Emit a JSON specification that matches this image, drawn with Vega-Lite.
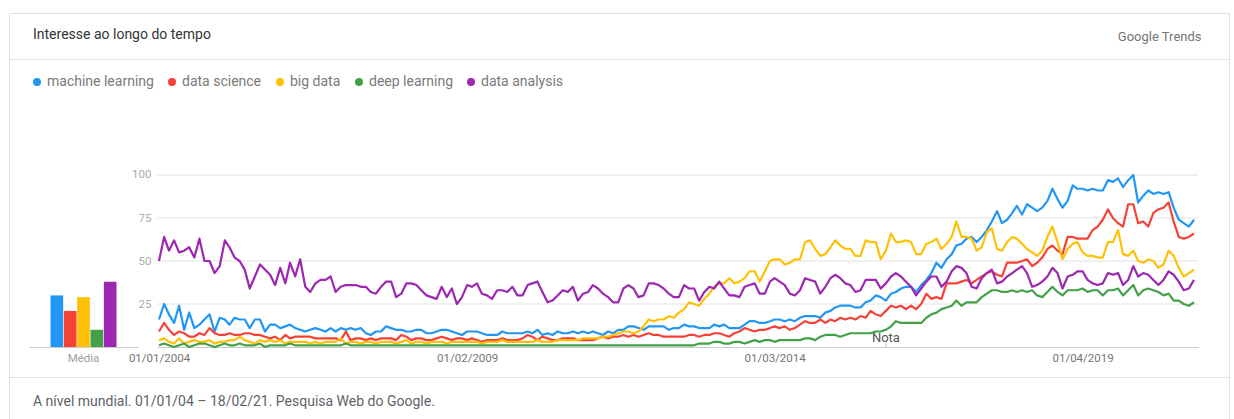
{
  "$schema": "https://vega.github.io/schema/vega-lite/v6.json",
  "background": "#ffffff",
  "padding": {"left": 8, "top": 12, "right": 6, "bottom": 0},
  "config": {
    "font": "Roboto",
    "view": {"stroke": "#e0e0e0", "strokeWidth": 1}
  },
  "title": {"text": "Google Trends", "anchor": "end", "frame": "bounds", "orient": "top", "offset": -37, "dx": -28, "baseline": "middle", "fontSize": 13, "color": "#757575", "fontWeight": "normal"},
  "spacing": 0,
  "bounds": "flush",
  "resolve": {"scale": {"color": "independent"}, "legend": {"color": "independent"}},
  "datasets": {
    "nomes": [
      {"k": "ml", "serie": "machine learning"},
      {"k": "ds", "serie": "data science"},
      {"k": "bd", "serie": "big data"},
      {"k": "dl", "serie": "deep learning"},
      {"k": "da", "serie": "data analysis"}
    ],
    "medias": [
      {"grupo": "Média", "serie": "machine learning", "media": 30},
      {"grupo": "Média", "serie": "data science", "media": 21},
      {"grupo": "Média", "serie": "big data", "media": 29},
      {"grupo": "Média", "serie": "deep learning", "media": 10},
      {"grupo": "Média", "serie": "data analysis", "media": 38}
    ],
    "notas": [{"d": "2016-01", "t": "Nota"}],
    "grade": [{"g": 25}, {"g": 50}, {"g": 75}, {"g": 100}],
    "tendencias": [
      {"d":"2004-01","ml":16,"ds":9,"bd":4,"dl":1,"da":50},
      {"d":"2004-02","ml":25,"ds":14,"bd":5,"dl":2,"da":64},
      {"d":"2004-03","ml":19,"ds":10,"bd":3,"dl":1,"da":56},
      {"d":"2004-04","ml":14,"ds":7,"bd":2,"dl":0,"da":62},
      {"d":"2004-05","ml":24,"ds":9,"bd":5,"dl":1,"da":55},
      {"d":"2004-06","ml":10,"ds":8,"bd":2,"dl":2,"da":56},
      {"d":"2004-07","ml":20,"ds":6,"bd":3,"dl":0,"da":58},
      {"d":"2004-08","ml":11,"ds":6,"bd":4,"dl":1,"da":52},
      {"d":"2004-09","ml":13,"ds":8,"bd":3,"dl":2,"da":63},
      {"d":"2004-10","ml":16,"ds":7,"bd":3,"dl":2,"da":50},
      {"d":"2004-11","ml":19,"ds":11,"bd":4,"dl":1,"da":50},
      {"d":"2004-12","ml":9,"ds":8,"bd":2,"dl":0,"da":43},
      {"d":"2005-01","ml":17,"ds":7,"bd":3,"dl":1,"da":47},
      {"d":"2005-02","ml":16,"ds":7,"bd":3,"dl":2,"da":62},
      {"d":"2005-03","ml":13,"ds":8,"bd":4,"dl":1,"da":58},
      {"d":"2005-04","ml":17,"ds":7,"bd":4,"dl":1,"da":52},
      {"d":"2005-05","ml":16,"ds":7,"bd":6,"dl":2,"da":50},
      {"d":"2005-06","ml":16,"ds":8,"bd":4,"dl":1,"da":45},
      {"d":"2005-07","ml":11,"ds":8,"bd":3,"dl":1,"da":34},
      {"d":"2005-08","ml":16,"ds":7,"bd":2,"dl":1,"da":41},
      {"d":"2005-09","ml":16,"ds":7,"bd":4,"dl":2,"da":48},
      {"d":"2005-10","ml":9,"ds":6,"bd":3,"dl":0,"da":45},
      {"d":"2005-11","ml":13,"ds":5,"bd":4,"dl":1,"da":42},
      {"d":"2005-12","ml":13,"ds":6,"bd":3,"dl":1,"da":36},
      {"d":"2006-01","ml":11,"ds":4,"bd":4,"dl":1,"da":46},
      {"d":"2006-02","ml":12,"ds":7,"bd":2,"dl":1,"da":37},
      {"d":"2006-03","ml":13,"ds":5,"bd":3,"dl":2,"da":49},
      {"d":"2006-04","ml":11,"ds":6,"bd":3,"dl":1,"da":41},
      {"d":"2006-05","ml":10,"ds":6,"bd":3,"dl":1,"da":51},
      {"d":"2006-06","ml":9,"ds":6,"bd":3,"dl":1,"da":35},
      {"d":"2006-07","ml":10,"ds":6,"bd":2,"dl":1,"da":32},
      {"d":"2006-08","ml":11,"ds":5,"bd":3,"dl":1,"da":37},
      {"d":"2006-09","ml":10,"ds":5,"bd":2,"dl":1,"da":39},
      {"d":"2006-10","ml":9,"ds":5,"bd":3,"dl":1,"da":39},
      {"d":"2006-11","ml":11,"ds":5,"bd":3,"dl":1,"da":41},
      {"d":"2006-12","ml":9,"ds":5,"bd":3,"dl":1,"da":32},
      {"d":"2007-01","ml":11,"ds":4,"bd":5,"dl":1,"da":35},
      {"d":"2007-02","ml":10,"ds":9,"bd":2,"dl":2,"da":36},
      {"d":"2007-03","ml":11,"ds":4,"bd":3,"dl":1,"da":36},
      {"d":"2007-04","ml":10,"ds":5,"bd":3,"dl":1,"da":36},
      {"d":"2007-05","ml":11,"ds":5,"bd":2,"dl":1,"da":35},
      {"d":"2007-06","ml":8,"ds":4,"bd":3,"dl":1,"da":35},
      {"d":"2007-07","ml":7,"ds":5,"bd":3,"dl":1,"da":32},
      {"d":"2007-08","ml":9,"ds":4,"bd":2,"dl":1,"da":31},
      {"d":"2007-09","ml":9,"ds":5,"bd":3,"dl":1,"da":35},
      {"d":"2007-10","ml":12,"ds":5,"bd":3,"dl":1,"da":38},
      {"d":"2007-11","ml":11,"ds":5,"bd":3,"dl":1,"da":38},
      {"d":"2007-12","ml":10,"ds":4,"bd":2,"dl":1,"da":29},
      {"d":"2008-01","ml":10,"ds":7,"bd":3,"dl":1,"da":31},
      {"d":"2008-02","ml":9,"ds":6,"bd":4,"dl":1,"da":37},
      {"d":"2008-03","ml":9,"ds":4,"bd":2,"dl":1,"da":37},
      {"d":"2008-04","ml":10,"ds":5,"bd":3,"dl":1,"da":36},
      {"d":"2008-05","ml":10,"ds":5,"bd":3,"dl":1,"da":33},
      {"d":"2008-06","ml":8,"ds":4,"bd":2,"dl":1,"da":30},
      {"d":"2008-07","ml":8,"ds":4,"bd":3,"dl":1,"da":29},
      {"d":"2008-08","ml":9,"ds":5,"bd":3,"dl":1,"da":28},
      {"d":"2008-09","ml":10,"ds":6,"bd":3,"dl":1,"da":35},
      {"d":"2008-10","ml":10,"ds":5,"bd":2,"dl":1,"da":29},
      {"d":"2008-11","ml":9,"ds":4,"bd":3,"dl":1,"da":34},
      {"d":"2008-12","ml":8,"ds":5,"bd":3,"dl":1,"da":25},
      {"d":"2009-01","ml":7,"ds":5,"bd":3,"dl":1,"da":29},
      {"d":"2009-02","ml":9,"ds":4,"bd":3,"dl":1,"da":36},
      {"d":"2009-03","ml":9,"ds":5,"bd":3,"dl":1,"da":35},
      {"d":"2009-04","ml":9,"ds":4,"bd":3,"dl":1,"da":37},
      {"d":"2009-05","ml":8,"ds":3,"bd":2,"dl":1,"da":31},
      {"d":"2009-06","ml":7,"ds":4,"bd":3,"dl":1,"da":30},
      {"d":"2009-07","ml":7,"ds":4,"bd":3,"dl":1,"da":28},
      {"d":"2009-08","ml":7,"ds":4,"bd":3,"dl":1,"da":33},
      {"d":"2009-09","ml":9,"ds":5,"bd":4,"dl":1,"da":33},
      {"d":"2009-10","ml":8,"ds":4,"bd":3,"dl":1,"da":32},
      {"d":"2009-11","ml":8,"ds":4,"bd":3,"dl":1,"da":35},
      {"d":"2009-12","ml":8,"ds":4,"bd":3,"dl":1,"da":30},
      {"d":"2010-01","ml":8,"ds":5,"bd":3,"dl":1,"da":30},
      {"d":"2010-02","ml":9,"ds":7,"bd":3,"dl":1,"da":36},
      {"d":"2010-03","ml":8,"ds":6,"bd":3,"dl":1,"da":37},
      {"d":"2010-04","ml":10,"ds":4,"bd":4,"dl":1,"da":38},
      {"d":"2010-05","ml":7,"ds":6,"bd":3,"dl":1,"da":32},
      {"d":"2010-06","ml":8,"ds":5,"bd":3,"dl":1,"da":26},
      {"d":"2010-07","ml":7,"ds":4,"bd":3,"dl":1,"da":27},
      {"d":"2010-08","ml":9,"ds":4,"bd":4,"dl":1,"da":30},
      {"d":"2010-09","ml":8,"ds":5,"bd":4,"dl":1,"da":33},
      {"d":"2010-10","ml":8,"ds":5,"bd":4,"dl":1,"da":32},
      {"d":"2010-11","ml":9,"ds":5,"bd":4,"dl":1,"da":35},
      {"d":"2010-12","ml":8,"ds":4,"bd":4,"dl":1,"da":27},
      {"d":"2011-01","ml":9,"ds":4,"bd":5,"dl":1,"da":31},
      {"d":"2011-02","ml":8,"ds":4,"bd":5,"dl":1,"da":32},
      {"d":"2011-03","ml":9,"ds":4,"bd":5,"dl":1,"da":36},
      {"d":"2011-04","ml":8,"ds":5,"bd":5,"dl":1,"da":34},
      {"d":"2011-05","ml":7,"ds":6,"bd":6,"dl":1,"da":31},
      {"d":"2011-06","ml":9,"ds":5,"bd":6,"dl":1,"da":29},
      {"d":"2011-07","ml":8,"ds":6,"bd":7,"dl":1,"da":26},
      {"d":"2011-08","ml":10,"ds":6,"bd":8,"dl":1,"da":26},
      {"d":"2011-09","ml":10,"ds":7,"bd":9,"dl":1,"da":34},
      {"d":"2011-10","ml":12,"ds":6,"bd":9,"dl":1,"da":36},
      {"d":"2011-11","ml":12,"ds":7,"bd":8,"dl":1,"da":34},
      {"d":"2011-12","ml":11,"ds":6,"bd":9,"dl":1,"da":29},
      {"d":"2012-01","ml":10,"ds":7,"bd":12,"dl":1,"da":30},
      {"d":"2012-02","ml":12,"ds":8,"bd":16,"dl":1,"da":37},
      {"d":"2012-03","ml":12,"ds":7,"bd":15,"dl":1,"da":37},
      {"d":"2012-04","ml":12,"ds":7,"bd":16,"dl":1,"da":36},
      {"d":"2012-05","ml":12,"ds":6,"bd":16,"dl":1,"da":34},
      {"d":"2012-06","ml":10,"ds":6,"bd":18,"dl":1,"da":31},
      {"d":"2012-07","ml":11,"ds":6,"bd":17,"dl":1,"da":29},
      {"d":"2012-08","ml":11,"ds":6,"bd":20,"dl":1,"da":29},
      {"d":"2012-09","ml":13,"ds":6,"bd":22,"dl":1,"da":36},
      {"d":"2012-10","ml":12,"ds":7,"bd":26,"dl":1,"da":34},
      {"d":"2012-11","ml":12,"ds":7,"bd":25,"dl":1,"da":34},
      {"d":"2012-12","ml":11,"ds":6,"bd":24,"dl":2,"da":27},
      {"d":"2013-01","ml":11,"ds":7,"bd":28,"dl":2,"da":32},
      {"d":"2013-02","ml":11,"ds":7,"bd":31,"dl":2,"da":35},
      {"d":"2013-03","ml":13,"ds":8,"bd":35,"dl":3,"da":34},
      {"d":"2013-04","ml":12,"ds":8,"bd":37,"dl":3,"da":38},
      {"d":"2013-05","ml":13,"ds":7,"bd":37,"dl":2,"da":34},
      {"d":"2013-06","ml":11,"ds":6,"bd":40,"dl":2,"da":30},
      {"d":"2013-07","ml":11,"ds":8,"bd":37,"dl":3,"da":30},
      {"d":"2013-08","ml":11,"ds":9,"bd":38,"dl":3,"da":29},
      {"d":"2013-09","ml":13,"ds":11,"bd":40,"dl":2,"da":35},
      {"d":"2013-10","ml":15,"ds":10,"bd":44,"dl":3,"da":36},
      {"d":"2013-11","ml":15,"ds":9,"bd":44,"dl":4,"da":37},
      {"d":"2013-12","ml":14,"ds":10,"bd":38,"dl":3,"da":31},
      {"d":"2014-01","ml":14,"ds":10,"bd":44,"dl":4,"da":31},
      {"d":"2014-02","ml":15,"ds":11,"bd":50,"dl":4,"da":38},
      {"d":"2014-03","ml":16,"ds":12,"bd":51,"dl":3,"da":40},
      {"d":"2014-04","ml":16,"ds":11,"bd":51,"dl":4,"da":38},
      {"d":"2014-05","ml":15,"ds":12,"bd":48,"dl":4,"da":36},
      {"d":"2014-06","ml":16,"ds":10,"bd":49,"dl":4,"da":31},
      {"d":"2014-07","ml":15,"ds":11,"bd":51,"dl":4,"da":30},
      {"d":"2014-08","ml":17,"ds":13,"bd":51,"dl":4,"da":33},
      {"d":"2014-09","ml":18,"ds":15,"bd":61,"dl":5,"da":40},
      {"d":"2014-10","ml":18,"ds":14,"bd":62,"dl":5,"da":39},
      {"d":"2014-11","ml":18,"ds":14,"bd":57,"dl":4,"da":38},
      {"d":"2014-12","ml":17,"ds":16,"bd":53,"dl":6,"da":31},
      {"d":"2015-01","ml":20,"ds":14,"bd":54,"dl":7,"da":35},
      {"d":"2015-02","ml":21,"ds":16,"bd":58,"dl":7,"da":40},
      {"d":"2015-03","ml":23,"ds":15,"bd":62,"dl":7,"da":42},
      {"d":"2015-04","ml":24,"ds":17,"bd":59,"dl":6,"da":40},
      {"d":"2015-05","ml":24,"ds":16,"bd":57,"dl":7,"da":37},
      {"d":"2015-06","ml":24,"ds":17,"bd":57,"dl":8,"da":36},
      {"d":"2015-07","ml":23,"ds":16,"bd":53,"dl":8,"da":32},
      {"d":"2015-08","ml":23,"ds":18,"bd":53,"dl":8,"da":33},
      {"d":"2015-09","ml":26,"ds":17,"bd":62,"dl":8,"da":39},
      {"d":"2015-10","ml":27,"ds":21,"bd":61,"dl":8,"da":39},
      {"d":"2015-11","ml":30,"ds":19,"bd":61,"dl":9,"da":39},
      {"d":"2015-12","ml":29,"ds":18,"bd":51,"dl":9,"da":34},
      {"d":"2016-01","ml":27,"ds":21,"bd":56,"dl":10,"da":37},
      {"d":"2016-02","ml":31,"ds":24,"bd":66,"dl":12,"da":41},
      {"d":"2016-03","ml":32,"ds":23,"bd":61,"dl":15,"da":43},
      {"d":"2016-04","ml":34,"ds":24,"bd":61,"dl":14,"da":41},
      {"d":"2016-05","ml":35,"ds":22,"bd":62,"dl":14,"da":38},
      {"d":"2016-06","ml":35,"ds":24,"bd":61,"dl":14,"da":35},
      {"d":"2016-07","ml":32,"ds":22,"bd":54,"dl":14,"da":30},
      {"d":"2016-08","ml":36,"ds":25,"bd":54,"dl":14,"da":34},
      {"d":"2016-09","ml":39,"ds":31,"bd":60,"dl":17,"da":38},
      {"d":"2016-10","ml":43,"ds":28,"bd":61,"dl":19,"da":41},
      {"d":"2016-11","ml":49,"ds":29,"bd":63,"dl":20,"da":41},
      {"d":"2016-12","ml":46,"ds":28,"bd":57,"dl":22,"da":35},
      {"d":"2017-01","ml":51,"ds":37,"bd":60,"dl":23,"da":38},
      {"d":"2017-02","ml":54,"ds":37,"bd":64,"dl":24,"da":44},
      {"d":"2017-03","ml":59,"ds":37,"bd":73,"dl":27,"da":47},
      {"d":"2017-04","ml":60,"ds":38,"bd":64,"dl":24,"da":46},
      {"d":"2017-05","ml":63,"ds":39,"bd":64,"dl":26,"da":43},
      {"d":"2017-06","ml":64,"ds":37,"bd":63,"dl":26,"da":35},
      {"d":"2017-07","ml":61,"ds":39,"bd":56,"dl":26,"da":34},
      {"d":"2017-08","ml":64,"ds":41,"bd":58,"dl":29,"da":40},
      {"d":"2017-09","ml":68,"ds":43,"bd":67,"dl":31,"da":43},
      {"d":"2017-10","ml":73,"ds":44,"bd":69,"dl":33,"da":45},
      {"d":"2017-11","ml":79,"ds":42,"bd":57,"dl":33,"da":37},
      {"d":"2017-12","ml":72,"ds":41,"bd":56,"dl":32,"da":38},
      {"d":"2018-01","ml":74,"ds":49,"bd":61,"dl":32,"da":41},
      {"d":"2018-02","ml":78,"ds":49,"bd":64,"dl":33,"da":43},
      {"d":"2018-03","ml":82,"ds":49,"bd":63,"dl":32,"da":45},
      {"d":"2018-04","ml":77,"ds":50,"bd":60,"dl":33,"da":47},
      {"d":"2018-05","ml":83,"ds":51,"bd":57,"dl":32,"da":43},
      {"d":"2018-06","ml":81,"ds":47,"bd":55,"dl":33,"da":35},
      {"d":"2018-07","ml":79,"ds":49,"bd":53,"dl":30,"da":36},
      {"d":"2018-08","ml":81,"ds":52,"bd":56,"dl":29,"da":38},
      {"d":"2018-09","ml":85,"ds":57,"bd":64,"dl":32,"da":41},
      {"d":"2018-10","ml":92,"ds":59,"bd":70,"dl":35,"da":46},
      {"d":"2018-11","ml":86,"ds":56,"bd":61,"dl":32,"da":43},
      {"d":"2018-12","ml":81,"ds":54,"bd":51,"dl":30,"da":34},
      {"d":"2019-01","ml":85,"ds":64,"bd":57,"dl":33,"da":41},
      {"d":"2019-02","ml":94,"ds":64,"bd":60,"dl":33,"da":42},
      {"d":"2019-03","ml":92,"ds":63,"bd":61,"dl":33,"da":44},
      {"d":"2019-04","ml":92,"ds":63,"bd":55,"dl":34,"da":44},
      {"d":"2019-05","ml":91,"ds":63,"bd":53,"dl":32,"da":39},
      {"d":"2019-06","ml":92,"ds":68,"bd":53,"dl":33,"da":37},
      {"d":"2019-07","ml":91,"ds":70,"bd":52,"dl":33,"da":36},
      {"d":"2019-08","ml":91,"ds":74,"bd":52,"dl":30,"da":37},
      {"d":"2019-09","ml":97,"ds":80,"bd":61,"dl":33,"da":43},
      {"d":"2019-10","ml":96,"ds":75,"bd":61,"dl":33,"da":42},
      {"d":"2019-11","ml":98,"ds":72,"bd":68,"dl":34,"da":43},
      {"d":"2019-12","ml":93,"ds":70,"bd":54,"dl":30,"da":36},
      {"d":"2020-01","ml":97,"ds":83,"bd":53,"dl":33,"da":39},
      {"d":"2020-02","ml":100,"ds":83,"bd":56,"dl":36,"da":47},
      {"d":"2020-03","ml":84,"ds":72,"bd":50,"dl":30,"da":41},
      {"d":"2020-04","ml":88,"ds":73,"bd":49,"dl":33,"da":43},
      {"d":"2020-05","ml":91,"ds":70,"bd":51,"dl":34,"da":42},
      {"d":"2020-06","ml":89,"ds":78,"bd":50,"dl":33,"da":39},
      {"d":"2020-07","ml":90,"ds":80,"bd":46,"dl":32,"da":36},
      {"d":"2020-08","ml":89,"ds":81,"bd":48,"dl":30,"da":39},
      {"d":"2020-09","ml":90,"ds":84,"bd":56,"dl":31,"da":44},
      {"d":"2020-10","ml":81,"ds":73,"bd":53,"dl":27,"da":42},
      {"d":"2020-11","ml":74,"ds":64,"bd":46,"dl":27,"da":38},
      {"d":"2020-12","ml":72,"ds":63,"bd":41,"dl":25,"da":33},
      {"d":"2021-01","ml":70,"ds":64,"bd":43,"dl":24,"da":34},
      {"d":"2021-02","ml":74,"ds":66,"bd":45,"dl":26,"da":39}
    ]
  },
  "vconcat": [
    {
      "width": 1220,
      "height": 46,
      "title": {"text": "Interesse ao longo do tempo", "anchor": "start", "frame": "group", "orient": "top", "offset": -36, "dx": 24, "baseline": "middle", "fontSize": 14, "color": "#333333", "fontWeight": "normal"},
      "data": {"values": []},
      "mark": "point",
      "encoding": {"x": {"datum": 0, "type": "quantitative", "axis": null}, "y": {"datum": 0, "type": "quantitative", "axis": null}}
    },
    {
      "width": 1220,
      "height": 318,
      "layer": [
        {
          "data": {"name": "medias"},
          "mark": {"type": "bar"},
          "encoding": {
            "x": {"field": "grupo", "type": "nominal", "scale": {"range": [20, 129], "paddingInner": 0, "paddingOuter": 0.326},
              "axis": {"orient": "bottom", "offset": -30, "title": null, "domain": true, "domainColor": "#cccccc", "ticks": false, "grid": false, "labelPadding": 5, "labelColor": "#9e9e9e", "labelFontSize": 11.5, "labelAngle": 0}},
            "xOffset": {"field": "serie", "type": "nominal", "sort": ["machine learning", "data science", "big data", "deep learning", "data analysis"], "scale": {"paddingInner": 0.05, "paddingOuter": 0}},
            "y": {"field": "media", "type": "quantitative", "scale": {"domain": [-17.44, 167.44], "nice": false, "zero": false},
              "axis": {"orient": "left", "offset": -148, "values": [25, 50, 75, 100], "domain": false, "ticks": false, "grid": false, "labelPadding": 6, "labelColor": "#aaaaaa", "labelFontSize": 11.5, "title": null}},
            "y2": {"datum": 0},
            "color": {"field": "serie", "type": "nominal",
              "scale": {"domain": ["machine learning", "data science", "big data", "deep learning", "data analysis"], "range": ["#2196F3", "#F44336", "#FFC107", "#43A047", "#9C27B0"]},
              "legend": {"orient": "none", "legendX": 21, "legendY": 16, "direction": "horizontal", "title": null, "symbolType": "circle", "symbolSize": 64, "symbolStrokeWidth": 0, "symbolOpacity": 1, "labelFontSize": 14, "labelColor": "#7a7a7a", "labelOffset": 3, "columnPadding": 11, "padding": 0}}
          }
        },
        {
          "layer": [
            {
              "data": {"name": "grade"},
              "mark": {"type": "rule", "color": "#e2e2e2", "strokeWidth": 1},
              "encoding": {
                "x": {"datum": {"year": 2003, "month": 12, "date": 20, "utc": true}, "type": "temporal",
                  "scale": {"type": "utc", "domain": [{"year": 2003, "month": 12, "date": 20, "utc": true}, {"year": 2021, "month": 2, "date": 25, "utc": true}], "range": [148, 1189]}},
                "x2": {"datum": {"year": 2021, "month": 2, "date": 25, "utc": true}},
                "y": {"field": "g", "type": "quantitative", "scale": {"domain": [-17.44, 167.44], "nice": false, "zero": false}}
              }
            },
            {
              "data": {"name": "tendencias"},
              "transform": [
                {"fold": ["ml", "ds", "bd", "dl", "da"], "as": ["k", "v"]},
                {"lookup": "k", "from": {"data": {"name": "nomes"}, "key": "k", "fields": ["serie"]}}
              ],
              "mark": {"type": "line", "strokeWidth": 2.2, "strokeJoin": "round"},
              "encoding": {
                "x": {"field": "d", "type": "temporal",
                  "scale": {"type": "utc", "domain": [{"year": 2003, "month": 12, "date": 20, "utc": true}, {"year": 2021, "month": 2, "date": 25, "utc": true}], "range": [148, 1189]},
                  "axis": {"orient": "bottom", "offset": -30, "title": null, "values": [
                      {"year": 2004, "month": 1, "date": 1, "utc": true},
                      {"year": 2009, "month": 2, "date": 1, "utc": true},
                      {"year": 2014, "month": 3, "date": 1, "utc": true},
                      {"year": 2019, "month": 4, "date": 1, "utc": true}],
                    "labelExpr": "utcFormat(datum.value, '%d/%m/%Y')", "domain": true, "domainColor": "#cccccc", "ticks": false, "grid": false, "labelPadding": 5, "labelColor": "#757575", "labelFontSize": 11.5, "labelFlush": false, "labelOverlap": false}},
                "y": {"field": "v", "type": "quantitative", "scale": {"domain": [-17.44, 167.44], "nice": false, "zero": false}},
                "color": {"field": "serie", "type": "nominal",
                  "scale": {"domain": ["machine learning", "data science", "big data", "deep learning", "data analysis"], "range": ["#2196F3", "#F44336", "#FFC107", "#43A047", "#9C27B0"]},
                  "legend": {"orient": "none", "legendX": 21, "legendY": 16, "direction": "horizontal", "title": null, "symbolType": "circle", "symbolSize": 64, "symbolStrokeWidth": 0, "symbolOpacity": 1, "labelFontSize": 14, "labelColor": "#7a7a7a", "labelOffset": 3, "columnPadding": 11, "padding": 0}}
              }
            },
            {
              "data": {"name": "notas"},
              "mark": {"type": "rule", "color": "#bdbdbd", "strokeWidth": 1},
              "encoding": {
                "x": {"field": "d", "type": "temporal",
                  "scale": {"type": "utc", "domain": [{"year": 2003, "month": 12, "date": 20, "utc": true}, {"year": 2021, "month": 2, "date": 25, "utc": true}], "range": [148, 1189]}},
                "y": {"datum": 0, "type": "quantitative", "scale": {"domain": [-17.44, 167.44], "nice": false, "zero": false}},
                "y2": {"datum": 2.3}
              }
            },
            {
              "data": {"name": "notas"},
              "mark": {"type": "text", "baseline": "alphabetic", "dy": -5.5, "fontSize": 13, "color": "#555555"},
              "encoding": {
                "x": {"field": "d", "type": "temporal",
                  "scale": {"type": "utc", "domain": [{"year": 2003, "month": 12, "date": 20, "utc": true}, {"year": 2021, "month": 2, "date": 25, "utc": true}], "range": [148, 1189]}},
                "y": {"datum": 0, "type": "quantitative", "scale": {"domain": [-17.44, 167.44], "nice": false, "zero": false}},
                "text": {"field": "t"}
              }
            }
          ]
        }
      ],
      "resolve": {"scale": {"x": "independent"}, "axis": {"x": "independent"}}
    },
    {
      "width": 1220,
      "height": 46,
      "title": {"text": "A nível mundial. 01/01/04 – 18/02/21. Pesquisa Web do Google.", "anchor": "start", "frame": "group", "orient": "top", "offset": -39, "dx": 24, "baseline": "middle", "fontSize": 14, "color": "#5f6368", "fontWeight": "normal"},
      "data": {"values": []},
      "mark": "point",
      "encoding": {"x": {"datum": 0, "type": "quantitative", "axis": null}, "y": {"datum": 0, "type": "quantitative", "axis": null}}
    }
  ]
}
